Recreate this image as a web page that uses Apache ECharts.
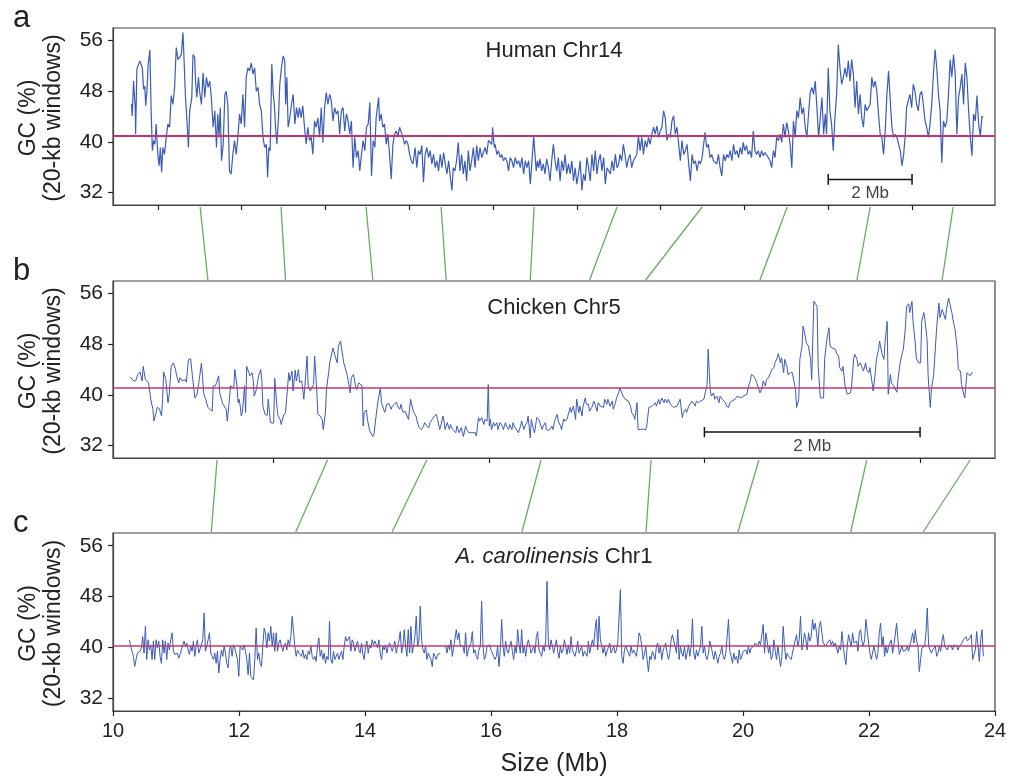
<!DOCTYPE html>
<html><head><meta charset="utf-8">
<script src="https://cdn.jsdelivr.net/npm/echarts@6/dist/echarts.min.js"></script>
<style>html,body{margin:0;padding:0;background:#fff}#chart{width:1010px;height:783px}</style>
</head><body><div id="chart"></div>
<script>
const FONT = '"Liberation Sans", Arial, Helvetica, sans-serif';
const yTicks = [32, 40, 48, 56];
const humanTicks = [1.07, 3.07, 5.07, 7.07, 9.07, 11.07, 13.07, 15.07, 17.07, 19.07];
const chickenTicks = [1.485, 3.485, 5.485, 7.485];
const humanMean = 41.0, chickenMean = 41.1, anoleMean = 40.2;
const humanScaleBar = [17.07, 19.07];
const chickenScaleBar = [5.485, 7.485];
const panelTitles = ['Human Chr14', 'Chicken Chr5', '{i|A. carolinensis} Chr1'];
const panelLetters = ['a', 'b', 'c'];

const humanGC = [[0.44,46],[0.46,44.1],[0.49,49.6],[0.53,45.4],[0.54,41.2],[0.57,51.5],[0.60,51.2],[0.64,52.8],[0.68,53],[0.70,51.7],[0.73,48.3],[0.76,48.8],[0.78,45.7],[0.81,48],[0.84,52.3],[0.88,54.5],[0.91,44.9],[0.94,38.6],[0.97,40.2],[1.00,39.6],[1.03,42.8],[1.07,38],[1.10,36.2],[1.13,39.1],[1.16,35.2],[1.19,39.1],[1.23,38],[1.27,40.7],[1.31,42.8],[1.35,42.3],[1.39,47.3],[1.43,45.9],[1.47,48.6],[1.51,54.9],[1.55,53],[1.59,52.8],[1.63,53.8],[1.67,57.3],[1.70,52.3],[1.73,47],[1.77,42.8],[1.80,39.1],[1.83,44.9],[1.88,47],[1.91,53.8],[1.95,53.3],[1.97,49.6],[2.00,47],[2.04,50.2],[2.07,47.8],[2.11,45.9],[2.15,50.9],[2.19,47],[2.23,50.2],[2.27,48.6],[2.31,49.6],[2.35,46.7],[2.39,42.3],[2.43,44.9],[2.47,39.1],[2.50,44.4],[2.53,40.7],[2.56,45.4],[2.59,37],[2.63,39.6],[2.67,47.5],[2.70,48],[2.74,45.9],[2.78,35.4],[2.82,34.9],[2.86,38],[2.90,40.2],[2.94,38],[2.98,40.7],[3.02,44.4],[3.06,42.8],[3.10,47.5],[3.14,42.3],[3.18,50.2],[3.22,51.7],[3.26,51.2],[3.30,52.5],[3.34,50.7],[3.38,51.7],[3.42,48],[3.46,48.6],[3.50,45.9],[3.54,44.9],[3.58,40.7],[3.62,39.1],[3.66,39.6],[3.69,34.4],[3.72,39.1],[3.75,38.6],[3.79,52.3],[3.82,48],[3.85,45.9],[3.88,42.3],[3.91,39.6],[3.95,43.8],[3.98,49.1],[4.02,51.7],[4.06,53.6],[4.10,52.8],[4.12,45.9],[4.15,50.2],[4.18,42.3],[4.22,43.8],[4.26,45.9],[4.30,47.5],[4.34,42.8],[4.38,45.4],[4.42,43.8],[4.45,45.4],[4.49,43.8],[4.53,45.7],[4.57,42.3],[4.61,39.6],[4.65,42.3],[4.69,40.2],[4.73,40.7],[4.77,38],[4.81,43.3],[4.85,42.3],[4.89,43.8],[4.93,40.7],[4.97,45.4],[5.01,39.9],[5.05,45.4],[5.09,47.8],[5.13,45.9],[5.17,47.5],[5.21,46.5],[5.25,43.3],[5.29,45.4],[5.33,44.4],[5.37,44.9],[5.41,41.2],[5.45,44.9],[5.49,45.4],[5.53,41.7],[5.57,44.4],[5.61,43.3],[5.65,41.2],[5.69,43.3],[5.73,35.9],[5.77,40.7],[5.81,37.5],[5.85,38.6],[5.89,35.4],[5.93,38],[5.97,40.2],[6.01,38.6],[6.05,42.3],[6.09,42.8],[6.13,46.2],[6.17,34.6],[6.21,40.2],[6.25,39.1],[6.28,43.8],[6.34,47],[6.36,43.3],[6.40,44.4],[6.44,42.3],[6.48,42.8],[6.52,39.6],[6.56,41.2],[6.60,38],[6.64,34.1],[6.68,39.6],[6.72,41.2],[6.76,41.7],[6.80,40.9],[6.84,42.3],[6.88,42.3],[6.92,40.7],[6.96,39.6],[7.00,40.2],[7.04,39.6],[7.08,38],[7.12,37],[7.16,36.5],
[7.17,37],[7.21,39.1],[7.25,35.9],[7.29,38.6],[7.33,38],[7.37,39.4],[7.41,33.6],[7.45,38],[7.49,39.1],[7.53,37.5],[7.57,38.6],[7.61,36.5],[7.65,38],[7.69,35.9],[7.73,37],[7.77,35.4],[7.81,38],[7.85,35.9],[7.89,38.3],[7.93,36.5],[7.97,34.9],[8.01,37],[8.05,34.4],[8.09,32.3],[8.12,35.9],[8.16,35.4],[8.20,37],[8.24,39.9],[8.28,35.4],[8.32,38],[8.36,34.9],[8.40,37],[8.44,33.8],[8.48,38.6],[8.52,35.4],[8.56,37],[8.60,39.1],[8.64,35.9],[8.68,39.4],[8.72,37],[8.76,39.1],[8.80,37.5],[8.84,38.3],[8.88,39.1],[8.92,38],[8.96,40.2],[9.00,40.2],[9.04,39.6],[9.06,42.3],[9.10,39.1],[9.12,39.6],[9.16,38],[9.20,38.6],[9.24,37.5],[9.28,38],[9.32,37],[9.36,37.5],[9.40,37],[9.44,35.4],[9.48,37.5],[9.52,37],[9.56,35.9],[9.60,37.5],[9.64,36.5],[9.68,37],[9.72,35.9],[9.76,37.5],[9.80,34.9],[9.84,37],[9.88,35.9],[9.92,37],[9.96,33.3],[10.00,37],[10.04,40.9],[10.07,41.2],[10.10,35.4],[10.13,37],[10.16,35.9],[10.19,37.3],[10.23,35.4],[10.27,36.5],[10.31,34.9],[10.35,37.3],[10.39,35.9],[10.43,33.8],[10.47,37],[10.51,39.6],[10.55,37],[10.59,35.4],[10.63,37.5],[10.67,33.8],[10.71,37],[10.75,35.4],[10.79,38],[10.83,34.9],[10.87,36.5],[10.91,34.9],[10.95,37],[10.99,33.8],[11.03,35.9],[11.07,33.3],[11.11,34.9],[11.15,37],[11.19,32.3],[11.23,34.9],[11.27,33.8],[11.31,37.5],[11.35,35.9],[11.39,33.8],[11.43,38],[11.47,35.4],[11.51,38.6],[11.55,34.9],[11.59,37],[11.63,38],[11.67,35.4],[11.71,37.5],[11.75,33.3],[11.79,35.9],[11.83,35.9],[11.87,34.9],[11.91,37],[11.95,35.4],[11.99,38],[12.03,35.9],[12.07,36.5],[12.10,38],[12.14,37],[12.18,39.6],[12.22,38],[12.26,35.9],[12.30,37.3],[12.34,38],[12.38,35.9],[12.42,37],[12.46,37],[12.50,38],[12.54,40.9],[12.58,38.6],[12.62,40.7],[12.66,38],[12.70,40.2],[12.74,39.1],[12.78,40.7],[12.82,39.6],[12.86,41.2],[12.90,42.3],[12.94,41.2],[12.98,42.5],[13.02,40.7],[13.06,41.7],[13.10,42.3],[13.14,44.9],[13.18,43.8],[13.22,40.2],[13.26,41.2],[13.30,40.7],[13.34,43.3],[13.38,44.1],[13.42,41.2],[13.46,42.3],[13.50,39.6],[13.54,37],[13.58,40.2],[13.62,38],[13.66,38.6],[13.70,39.6],[13.74,36.5],[13.78,33.8],[13.82,38],[13.86,36.5],[13.90,37],[13.94,35.4],[13.98,37],[14.02,36.5],[14.06,37.5],[14.09,37.5],[14.13,41.5],[14.17,39.1],[14.21,39.6],[14.25,37.5],
[14.29,38],[14.33,37],[14.37,37.3],[14.41,36.5],[14.45,38],[14.49,35.9],[14.53,34.6],[14.57,38],[14.61,37],[14.65,38],[14.69,37.5],[14.73,38.6],[14.77,37],[14.81,39.6],[14.85,38],[14.89,38.6],[14.93,37.5],[14.97,39.1],[15.01,38],[15.04,39.9],[15.08,38.6],[15.12,39.4],[15.16,38],[15.20,38.6],[15.24,37.5],[15.28,41.7],[15.32,38.6],[15.36,38],[15.40,38.6],[15.44,37.5],[15.48,38.6],[15.52,37.8],[15.56,38.3],[15.60,38],[15.64,37.5],[15.68,37],[15.72,35.9],[15.76,38.6],[15.80,37.5],[15.84,40.7],[15.88,40.2],[15.92,41.2],[15.96,39.9],[16.00,42.8],[16.04,40.7],[16.08,43.05],[16.12,41.7],[16.16,39.6],[16.20,35.9],[16.24,43.3],[16.28,40.7],[16.32,44.9],[16.36,43.8],[16.40,47],[16.44,44.4],[16.48,45.4],[16.52,42.3],[16.56,40.7],[16.60,44.4],[16.64,47.8],[16.68,48.6],[16.72,47.5],[16.76,49.6],[16.80,45.4],[16.84,40.7],[16.88,43.8],[16.92,47],[16.96,41.2],[17.00,44.4],[17.03,41.2],[17.07,51.7],[17.11,44.9],[17.15,42.8],[17.19,38.6],[17.23,43.8],[17.27,47.5],[17.31,55.4],[17.35,51.7],[17.39,49.1],[17.43,50.2],[17.47,51.7],[17.51,50.2],[17.55,52.8],[17.59,49.6],[17.63,53],[17.67,50.7],[17.71,45.4],[17.75,49.6],[17.79,44.4],[17.83,47.5],[17.87,43.8],[17.91,42.3],[17.95,45.9],[17.99,44.9],[18.03,45.4],[18.07,45.9],[18.11,50.2],[18.15,48.6],[18.19,49.6],[18.23,48],[18.27,44.4],[18.31,41.2],[18.35,40.7],[18.39,38],[18.43,41.7],[18.47,47.5],[18.51,51.2],[18.55,46.5],[18.59,42.3],[18.63,40.7],[18.67,41.2],[18.71,40.7],[18.75,39.6],[18.79,38.6],[18.83,36.2],[18.87,38],[18.91,41.2],[18.94,45.4],[18.98,46.5],[19.02,47.5],[19.06,45.4],[19.10,49.1],[19.14,48],[19.18,45.9],[19.22,44.9],[19.26,47.5],[19.30,48],[19.34,45.9],[19.38,43.3],[19.42,42.3],[19.46,40.7],[19.50,42.8],[19.54,45.9],[19.58,50.7],[19.62,54.6],[19.66,51.7],[19.70,47.5],[19.74,44.9],[19.78,36.7],[19.82,43.3],[19.86,42.3],[19.90,43.3],[19.94,47.5],[19.98,53],[20.02,50.2],[20.06,53.8],[20.10,50.7],[20.14,41.2],[20.18,47],[20.22,48.6],[20.26,50.7],[20.30,45.9],[20.34,52.5],[20.38,50.2],[20.42,44.9],[20.46,40.7],[20.50,37.8],[20.54,44.4],[20.58,43.3],[20.62,47.3],[20.66,42.8],[20.70,40.9],[20.74,44.1],[20.76,43.8]];

const chickenGC = [[0.16,42.8],[0.19,42.2],[0.21,42.2],[0.23,43.2],[0.25,43.6],[0.27,42.2],[0.28,44.5],[0.30,42.4],[0.31,42.4],[0.33,41.9],[0.35,39.3],[0.37,37.7],[0.38,35.85],[0.40,37.2],[0.41,38],[0.43,37.8],[0.45,36.65],[0.46,39.3],[0.47,43.6],[0.49,42.4],[0.51,38.75],[0.52,39.8],[0.54,44.5],[0.56,45.05],[0.58,44],[0.59,43],[0.61,41.9],[0.62,42.7],[0.64,42.2],[0.65,41.9],[0.67,42.4],[0.68,42],[0.70,45.6],[0.72,45.7],[0.74,42.4],[0.76,39.5],[0.78,40.1],[0.80,42.4],[0.82,45],[0.83,43],[0.84,40.3],[0.86,39.3],[0.88,38],[0.90,37.7],[0.92,37.4],[0.93,41.4],[0.95,41.4],[0.96,41.9],[0.98,43],[0.99,40.3],[1.01,39],[1.02,38.5],[1.05,37.7],[1.06,35.85],[1.08,39.3],[1.09,41.4],[1.12,41.1],[1.13,44],[1.15,41.4],[1.16,38.75],[1.17,39.3],[1.18,38.2],[1.19,36.65],[1.20,37.2],[1.22,41.4],[1.23,37.2],[1.24,44.5],[1.26,43.5],[1.27,43],[1.29,43.5],[1.30,42.4],[1.31,39.8],[1.33,40.85],[1.34,41.9],[1.35,43],[1.37,44],[1.38,42.4],[1.39,38.2],[1.41,36.9],[1.43,36.75],[1.44,39.3],[1.46,35.6],[1.47,35.6],[1.49,35.5],[1.50,42.6],[1.52,38.2],[1.53,36.75],[1.55,36.1],[1.56,35.3],[1.58,36.65],[1.60,37.2],[1.61,39.3],[1.63,43.5],[1.64,42.2],[1.66,43.75],[1.67,40.6],[1.69,43.9],[1.70,42.2],[1.72,44],[1.73,42],[1.75,42.2],[1.77,39.3],[1.78,39],[1.80,46.1],[1.81,41.4],[1.83,40.6],[1.84,40.3],[1.86,41.6],[1.87,46.1],[1.89,40.6],[1.90,36.9],[1.92,36.65],[1.94,36.1],[1.95,34.5],[1.97,37.2],[1.98,40.85],[2.00,43.5],[2.01,45.05],[2.04,47.4],[2.06,46.1],[2.08,45.05],[2.09,47.7],[2.11,48.5],
[2.12,48.3],[2.14,45.05],[2.15,44.5],[2.17,43.2],[2.18,42.4],[2.20,40.3],[2.21,42.7],[2.23,43.2],[2.25,41.4],[2.26,40.85],[2.28,41.9],[2.29,42.2],[2.31,41.4],[2.32,35.05],[2.33,37.2],[2.35,37.6],[2.36,36.1],[2.38,34.3],[2.39,34],[2.41,33.4],[2.42,33.75],[2.44,36.65],[2.46,39.3],[2.48,41.1],[2.49,38.75],[2.51,37.7],[2.52,37.2],[2.54,38.5],[2.56,38.6],[2.58,37.7],[2.59,38.2],[2.61,38.5],[2.63,38.85],[2.64,38.2],[2.66,37.7],[2.67,38.5],[2.69,37.2],[2.71,37.4],[2.74,36.1],[2.76,39.3],[2.78,37.7],[2.79,37.2],[2.81,36.65],[2.82,35.85],[2.84,34.8],[2.86,34.5],[2.88,35.05],[2.89,35.6],[2.91,35.05],[2.93,34.8],[2.94,35.6],[2.96,36.1],[2.98,36.65],[3.00,36.9],[3.01,36.1],[3.03,34.5],[3.04,35.05],[3.06,36.65],[3.07,35.85],[3.08,34.5],[3.10,35.6],[3.12,34.5],[3.13,35.3],[3.15,34.5],[3.16,34.8],[3.18,34],[3.19,35.05],[3.21,34],[3.23,34.8],[3.24,35.05],[3.25,33.4],[3.27,35.05],[3.28,34.5],[3.30,34],[3.31,33.75],[3.33,34],[3.34,34.3],[3.36,34],[3.37,33.5],[3.39,36.4],[3.40,35.85],[3.42,36.4],[3.44,35.3],[3.45,36.1],[3.47,35.85],[3.48,41.6],[3.49,35.05],[3.50,36.1],[3.51,34.5],[3.53,35.6],[3.54,35.05],[3.56,35.6],[3.57,34.5],[3.59,35.6],[3.61,35.05],[3.62,34.5],[3.64,35.6],[3.65,35.05],[3.67,34.5],[3.68,35.3],[3.70,34.5],[3.71,35.6],[3.73,34.8],[3.74,34.5],[3.76,34],[3.78,35.05],[3.79,35.85],[3.81,34.5],[3.82,35.05],[3.84,35.6],[3.85,36.65],[3.87,33.2],[3.88,36.1],[3.90,34.5],[3.91,34],[3.93,36.4],[3.95,36.1],[3.96,35.85],[3.98,34.5],[3.99,35.05],[4.01,35.6],[4.02,34.5],[4.04,34.3],[4.05,34.5],[4.07,35.05],[4.08,34.5],[4.10,36.1],[4.12,36.9],[4.13,35.85],[4.15,35.05],[4.16,34.5],[4.18,36.2],[4.19,35.85],[4.21,36.1],[4.22,36.4],[4.24,38],[4.25,37.2],[4.27,38.2],[4.29,36.1],[4.30,39.3],[4.32,37.2],[4.33,38.2],[4.35,36.65],[4.36,38.2],[4.38,39.5],[4.39,38.5],[4.41,38.5],[4.42,37.4],[4.44,38],[4.46,39],[4.47,38.5],[4.49,37.4],[4.50,38.75],[4.52,38.2],[4.53,38.5],[4.55,38],[4.56,39.3],[4.58,38.5],[4.59,39.3],[4.61,38.2],[4.63,39],[4.64,37.7],[4.66,38.75],[4.67,39.5],[4.69,40.3],[4.70,41.1],[4.72,40.3],[4.73,39.8],[4.75,39.3],[4.76,39.3],[4.78,39],[4.80,38.2],[4.81,37.2],[4.83,36.65],[4.84,36.1],[4.86,38.75],[4.87,34.5],[4.89,34.5],[4.92,34.6],[4.94,34.4],[4.95,35.05],[4.97,38],[4.98,38],[5.00,38.2],[5.01,38],[5.03,38.75],[5.04,38.2],[5.06,39.3],[5.07,38.5],[5.09,39.5],[5.11,38.75],[5.12,39.3],[5.14,38.75],[5.15,39.3],[5.17,38.5],
[5.20,38],[5.23,38.2],[5.24,38.5],[5.26,39.3],[5.28,36.4],[5.29,37.2],[5.31,37.7],[5.32,37.2],[5.34,38.2],[5.35,38],[5.37,39],[5.38,39.3],[5.40,38.2],[5.41,39],[5.43,38.75],[5.45,39],[5.46,39.3],[5.48,39.3],[5.49,40.1],[5.51,41.6],[5.52,47.2],[5.53,43.5],[5.54,40.6],[5.55,39.8],[5.57,40.3],[5.58,39.3],[5.60,39.8],[5.62,38.75],[5.63,39.8],[5.65,39.3],[5.66,39],[5.68,38.75],[5.69,38.2],[5.71,38],[5.72,38.75],[5.74,39],[5.75,39.3],[5.77,39.3],[5.79,39.8],[5.80,39.8],[5.82,39.5],[5.83,39.3],[5.85,39.8],[5.86,39.5],[5.88,40.1],[5.89,41.1],[5.91,42.2],[5.92,43.2],[5.94,43],[5.96,42.4],[5.97,41.9],[5.99,40.85],[6.00,40.3],[6.02,41.1],[6.03,42.2],[6.05,41.4],[6.06,42.4],[6.08,42.7],[6.09,43],[6.11,44],[6.13,44.3],[6.14,45.05],[6.16,45.85],[6.17,46.5],[6.19,45.05],[6.20,45.85],[6.22,43.5],[6.23,45.6],[6.25,44.5],[6.26,43.2],[6.28,43.5],[6.30,43.5],[6.31,43.75],[6.33,40.85],[6.34,38],[6.36,39.3],[6.37,45.6],[6.39,47.7],[6.40,50.85],[6.42,49.3],[6.43,48.2],[6.45,47.7],[6.47,45.6],[6.48,42.4],[6.50,54.8],[6.51,54.5],[6.53,54],[6.54,44.5],[6.56,39.5],[6.57,39.5],[6.59,39.5],[6.60,45.6],[6.62,48.7],[6.64,50.6],[6.65,47.7],[6.67,47.4],[6.68,47.7],[6.70,47.2],[6.71,46.6],[6.73,46.1],[6.74,44.3],[6.76,43.75],[6.77,44.5],[6.79,41.4],[6.81,40.1],[6.82,40.1],[6.84,40.3],[6.85,41.4],[6.87,45.85],[6.88,46.4],[6.90,45.6],[6.91,44.5],[6.93,45.05],[6.94,45.3],[6.96,43.75],[6.98,45.05],[6.99,44],[7.01,43.5],[7.02,44.3],[7.04,41.9],[7.05,40.6],[7.07,43.5],[7.08,45.6],[7.10,47.2],[7.11,48.5],[7.13,46.6],[7.15,45.6],[7.16,48.2],[7.18,51.6],[7.19,40.1],[7.21,43.2],[7.22,41.9],[7.24,41.4],[7.25,41.1],[7.27,40.4],[7.28,42.4],[7.30,45.05],[7.32,46.6],[7.33,47.2],[7.35,50.85],[7.36,54],[7.38,54.4],[7.39,53],[7.41,54.8],[7.42,51.6],[7.44,48.2],[7.45,45.85],[7.47,45.05],[7.49,45.05],[7.50,51.6],[7.52,53],[7.53,51.9],[7.55,48.7],[7.56,43],[7.58,38],[7.59,40.85],[7.61,43],[7.62,45.6],[7.64,50.85],[7.66,54.5],[7.67,52.2],[7.69,53.5],[7.70,53],[7.72,51.9],[7.73,53.5],[7.75,55.3],[7.76,54.5],[7.78,53],[7.79,51.9],[7.81,50.3],[7.83,47.2],[7.84,44],[7.86,43.75],[7.87,41.6],[7.89,40.1],[7.90,39.5],[7.92,43.5],[7.93,43.4],[7.95,43],[7.97,43.6]];

const anoleGC = [41.2,40.2,39.4,38.6,37.0,38.1,39.1,39.2,39.4,39.9,41.7,39.1,43.3,38.1,41.2,39.6,40.4,38.1,41.0,38.1,41.2,39.9,41.0,38.6,37.5,41.2,39.1,41.0,38.1,40.7,39.6,41.2,42.3,39.4,38.9,38.6,39.1,38.3,38.9,39.6,40.4,41.0,40.2,40.7,39.6,38.9,40.2,39.4,41.0,38.6,40.2,41.2,39.1,39.4,40.4,41.2,45.4,39.4,40.2,41.2,42.3,39.1,38.6,38.1,39.1,37.5,39.4,36.0,38.1,39.6,38.6,40.2,39.1,37.5,36.8,39.6,40.2,38.6,40.4,39.9,40.2,38.1,35.45,40.2,40.2,39.6,40.4,39.4,38.1,35.7,39.1,35.45,35.45,34.9,38.1,43.05,38.1,39.1,37.5,37.0,40.2,43.05,42.3,39.9,42.3,41.0,43.3,40.2,42.3,39.4,42.3,39.4,40.7,41.2,40.2,39.4,40.2,40.7,39.6,41.2,40.2,41.7,44.9,44.9,40.2,38.6,39.6,39.1,39.4,38.6,39.6,38.3,38.9,38.1,39.4,38.9,40.2,38.6,38.1,38.6,37.8,40.2,41.5,38.6,39.6,38.1,39.1,37.5,38.6,38.1,44.1,38.1,37.5,39.4,38.1,38.6,39.1,38.1,37.8,
39.4,38.1,40.2,41.7,41.0,40.7,41.7,39.4,41.2,40.7,39.4,40.2,41.0,39.6,39.1,40.7,38.9,38.1,40.2,41.0,39.1,40.4,39.9,41.2,40.4,41.0,40.7,39.9,41.2,39.1,38.1,40.2,39.6,40.4,39.1,40.2,40.7,41.0,39.4,40.2,41.0,39.1,40.2,41.0,42.5,39.1,40.2,42.8,40.2,38.6,42.8,39.1,43.3,39.1,40.2,41.7,44.9,40.2,41.0,46.5,41.2,39.6,39.1,40.2,38.1,39.1,39.4,38.1,37.0,39.1,38.6,38.1,38.9,38.9,39.1,null,null,null,40.2,39.1,40.4,39.6,41.2,38.6,39.9,40.2,42.8,41.2,42.3,40.2,40.4,40.2,39.1,42.3,38.6,39.6,40.2,40.7,42.5,39.1,39.6,38.6,38.1,39.6,40.2,47.25,40.2,38.1,38.6,40.2,40.2,40.4,39.6,39.1,39.4,38.1,38.6,40.2,37.0,39.6,44.4,40.2,38.6,41.0,39.6,39.1,40.2,41.0,39.4,38.1,40.2,39.1,42.8,40.4,39.1,42.8,39.1,40.2,38.6,40.2,41.2,40.2,39.1,39.4,40.2,39.1,41.7,42.5,39.6,39.1,38.6,40.2,39.4,41.0,50.4,40.7,39.6,41.2,40.2,39.1,40.2,41.2,39.4,38.3,40.2,39.1,39.6,41.2,40.2,38.9,40.4,39.1,41.7,39.6,39.1,38.6,39.6,41.0,39.1,39.4,40.2,38.6,39.4,39.1,38.6,41.0,39.1,40.2,41.2,40.2,42.8,44.4,39.6,44.9,41.2,40.2,39.1,40.2,38.6,39.4,39.6,40.7,39.1,39.4,40.2,39.1,39.6,40.7,40.4,49.1,38.6,37.5,39.6,40.2,40.4,39.1,38.6,40.2,39.1,39.6,39.4,38.6,40.2,42.3,41.7,40.2,38.1,38.9,40.2,38.1,36.2,38.6,38.1,39.4,39.1,38.1,40.2,40.7,39.1,40.2,38.1,39.4,40.2,40.7,39.1,38.1,39.1,
41.2,42.0,41.0,40.2,39.1,42.8,38.1,40.2,39.1,38.6,40.2,38.1,39.1,40.4,38.6,40.2,44.5,39.1,38.1,39.6,38.6,39.4,40.2,43.3,39.1,40.2,38.6,38.1,39.1,41.0,40.2,39.1,38.1,39.4,38.6,37.5,38.6,39.1,40.2,38.6,38.1,39.1,39.4,44.4,39.4,38.6,37.5,39.1,38.1,38.6,37.5,39.6,38.1,38.6,39.4,39.1,39.6,38.9,40.2,39.1,39.9,39.6,40.2,40.7,40.7,40.2,41.0,40.4,40.2,43.6,39.1,42.3,41.0,39.1,40.2,38.1,38.6,41.2,39.4,38.1,40.2,38.6,37.0,38.6,43.3,40.2,38.1,39.1,38.6,38.3,38.1,38.1,40.2,40.2,42.0,40.2,41.2,44.9,39.6,40.7,42.3,41.2,39.6,42.3,41.0,41.7,44.4,42.8,43.8,42.3,40.2,43.3,44.1,42.3,40.7,40.7,40.2,40.7,41.0,41.2,40.4,41.0,40.2,40.7,40.4,39.1,40.2,39.6,42.5,40.2,38.6,37.3,40.2,42.0,41.0,40.2,42.3,40.7,40.4,41.0,39.4,42.3,42.8,41.0,40.2,41.2,44.4,44.4,40.7,39.1,38.1,37.8,40.2,40.2,38.1,39.1,42.3,43.8,40.2,41.7,38.6,40.2,39.1,40.2,40.2,41.2,39.1,40.4,40.2,43.8,41.2,38.9,39.1,40.2,39.4,39.6,39.6,40.2,39.4,39.1,41.2,42.3,40.7,42.8,41.0,40.2,36.2,38.1,39.9,40.2,40.2,42.3,46.2,40.2,39.6,39.1,39.6,39.4,40.2,38.6,39.1,40.2,39.4,41.0,42.0,40.2,40.4,39.6,40.2,39.9,40.2,39.6,40.4,40.2,40.2,39.6,40.2,40.2,40.7,41.2,41.0,41.7,41.0,41.2,41.5,42.0,38.1,38.1,39.6,42.5,40.2,37.8,41.2,42.8,38.6];
const anoleStart = 10.26, anoleEnd = 23.815;

const humanChickenLinks = [[2.08,0.88],[4.01,1.60],[6.04,2.41],[7.83,3.09],[10.05,3.87],[12.03,4.42],[14.06,4.94],[16.09,6.00],[18.07,6.90],[20.05,7.69]];
const chickenAnoleLinks = [[0.965,11.56],[1.99,12.90],[2.91,14.43],[3.97,16.49],[4.99,18.46],[5.99,19.92],[6.99,21.71],[7.95,22.86]];

// ---------- styles / layout ----------
const BLUE = '#3b5cb6', RED = '#c8336e', GREEN = '#66ad60', INK = '#222222', BOX = '#444444';
const Y_MIN = 30, Y_MAX = 58;
const grids = [
  {left: 113, top: 28, width: 882, height: 177},
  {left: 113, top: 281, width: 882, height: 177},
  {left: 113, top: 533, width: 882, height: 178}
].map(g => Object.assign(g, {show: true, borderColor: BOX, borderWidth: 1.2, backgroundColor: 'transparent', containLabel: false}));

const tickStyle = {color: INK, width: 1.2};
function hiddenX(idx, max, ticks) {
  return {type: 'value', gridIndex: idx, min: 0, max: max, splitLine: {show: false},
    axisLine: {show: true, lineStyle: {color: BOX, width: 1.2}},
    axisTick: {show: true, inside: false, length: 5, customValues: ticks, lineStyle: tickStyle},
    axisLabel: {show: false}};
}
const xAxes = [
  hiddenX(0, 21.05, humanTicks),
  hiddenX(1, 8.18, chickenTicks),
  {type: 'value', gridIndex: 2, min: 10, max: 24, interval: 2, splitLine: {show: false},
   axisLine: {show: true, lineStyle: {color: BOX, width: 1.2}},
   axisTick: {show: true, inside: false, length: 5, lineStyle: tickStyle},
   axisLabel: {fontSize: 20, color: INK, margin: 10, fontFamily: FONT},
   name: 'Size (Mb)', nameLocation: 'middle', nameGap: 41,
   nameTextStyle: {fontSize: 25, color: INK, fontFamily: FONT}}
];
const yAxes = [0, 1, 2].map(i => ({
  type: 'value', gridIndex: i, min: Y_MIN, max: Y_MAX, splitLine: {show: false},
  axisLine: {show: true, lineStyle: {color: BOX, width: 1.2}},
  axisTick: {show: true, inside: false, length: 5, customValues: yTicks, lineStyle: tickStyle},
  axisLabel: {customValues: yTicks, fontSize: 21, color: INK, margin: 10, fontFamily: FONT}
}));

function dataLine(idx, data, mean, width, meanWidth) {
  return {type: 'line', xAxisIndex: idx, yAxisIndex: idx, data: data, showSymbol: false, symbol: 'none',
    lineStyle: {color: BLUE, width: width}, z: 3, silent: true,
    markLine: {silent: true, symbol: ['none', 'none'], animation: false, label: {show: false},
      lineStyle: {color: RED, width: meanWidth, type: 'solid'}, data: [{yAxis: mean}]}};
}
function scaleBar(idx, bar, yBar, cap, yLabel) {
  const [a, b] = bar;
  return [
    {type: 'line', xAxisIndex: idx, yAxisIndex: idx, showSymbol: false, symbol: 'none', silent: true, z: 4,
     lineStyle: {color: '#111', width: 1.5},
     data: [[a, yBar + cap], [a, yBar - cap], [a, yBar], [b, yBar], [b, yBar + cap], [b, yBar - cap]]},
    {type: 'scatter', xAxisIndex: idx, yAxisIndex: idx, symbolSize: 1, silent: true, z: 4,
     itemStyle: {color: 'rgba(0,0,0,0)'},
     label: {show: true, position: 'inside', formatter: '2 Mb', fontSize: 17, color: '#111', fontFamily: FONT},
     data: [[(a + b) / 2, yLabel]]}
  ];
}
const anoleStep = (anoleEnd - anoleStart) / (anoleGC.length - 1);
const anoleData = anoleGC.map((v, i) => [anoleStart + i * anoleStep, v]);

const chart = echarts.init(document.getElementById('chart'), null, {renderer: 'canvas'});
chart.setOption({
  animation: false,
  backgroundColor: '#fff',
  textStyle: {fontFamily: FONT},
  grid: grids,
  xAxis: xAxes,
  yAxis: yAxes,
  series: [
    dataLine(0, humanGC, humanMean, 1.2, 2),
    dataLine(1, chickenGC, chickenMean, 1, 1.6),
    dataLine(2, anoleData, anoleMean, 1, 1.6),
    ...scaleBar(0, humanScaleBar, 34.05, 0.85, 31.9),
    ...scaleBar(1, chickenScaleBar, 34.1, 0.8, 31.9)
  ]
});

// ---------- texts and synteny links ----------
const elements = [];
grids.forEach((g, i) => {
  const cx = g.left + g.width / 2;
  elements.push({type: 'text', id: 'title' + i, x: cx, y: g.top + [22.5, 26.5, 23.5][i], silent: true,
    style: {text: panelTitles[i], fontSize: 22, fontFamily: FONT, fill: INK, align: 'center', verticalAlign: 'middle',
      rich: {i: {fontStyle: 'italic', fontSize: 22, fontFamily: FONT, fill: INK}}}});
  elements.push({type: 'text', id: 'letter' + i, x: 13, y: g.top - 9.5, silent: true,
    style: {text: panelLetters[i], fontSize: 31, fontFamily: FONT, fill: INK, align: 'left', verticalAlign: 'middle'}});
  elements.push({type: 'text', id: 'yname' + i, x: 41, y: g.top + g.height / 2 + 1.5, rotation: Math.PI / 2, silent: true,
    style: {text: 'GC (%)\n(20-kb windows)', fontSize: 23, lineHeight: 25, fontFamily: FONT, fill: INK,
      align: 'center', verticalAlign: 'middle'}});
});
function toPx(g, x, y) { return chart.convertToPixel({gridIndex: g}, [x, y]); }
function addLinks(list, gTop, gBottom, prefix) {
  list.forEach(([xt, xb], i) => {
    const p1 = toPx(gTop, xt, Y_MIN), p2 = toPx(gBottom, xb, Y_MAX);
    elements.push({type: 'line', id: prefix + i, silent: true,
      shape: {x1: p1[0], y1: p1[1] + 2, x2: p2[0], y2: p2[1] - 1},
      style: {stroke: GREEN, lineWidth: 1.3}});
  });
}
addLinks(humanChickenLinks, 0, 1, 'ab');
addLinks(chickenAnoleLinks, 1, 2, 'bc');
chart.setOption({graphic: {elements: elements}});
</script>
</body></html>
